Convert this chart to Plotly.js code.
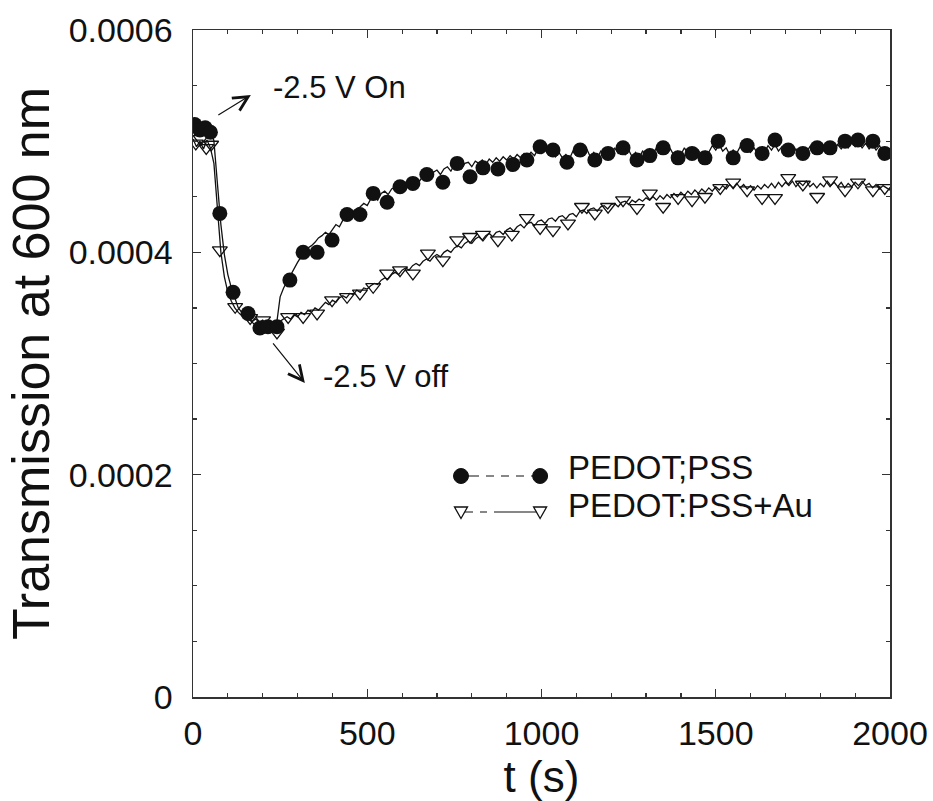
<!DOCTYPE html>
<html>
<head>
<meta charset="utf-8">
<script src="https://cdn.plot.ly/plotly-3.0.1.min.js"></script>
<style>
  html, body { margin: 0; padding: 0; background: #ffffff; }
  #chart { width: 933px; height: 801px; }
</style>
</head>
<body>
<div id="chart"></div>
<script>
// Time base of the recorded transmission traces (s)
const tLine = [
  0,10,20,30,40,50,60,70,80,90,100,110,120,130,140,150,160,170,180,190,
  200,210,220,230,240,250,260,270,280,290,300,310,320,330,340,350,360,370,380,390,
  400,410,420,430,440,450,460,470,480,490,500,510,520,530,540,550,560,570,580,590,
  600,610,620,630,640,650,660,670,680,690,700,710,720,730,740,750,760,770,780,790,
  800,810,820,830,840,850,860,870,880,890,900,910,920,930,940,950,960,970,980,990,
  1000,1010,1020,1030,1040,1050,1060,1070,1080,1090,1100,1110,1120,1130,1140,1150,1160,1170,1180,1190,
  1200,1210,1220,1230,1240,1250,1260,1270,1280,1290,1300,1310,1320,1330,1340,1350,1360,1370,1380,1390,
  1400,1410,1420,1430,1440,1450,1460,1470,1480,1490,1500,1510,1520,1530,1540,1550,1560,1570,1580,1590,
  1600,1610,1620,1630,1640,1650,1660,1670,1680,1690,1700,1710,1720,1730,1740,1750,1760,1770,1780,1790,
  1800,1810,1820,1830,1840,1850,1860,1870,1880,1890,1900,1910,1920,1930,1940,1950,1960,1970,1980,1990,
  2000
];

// PEDOT;PSS continuous trace
const pssLine = [
  0.000516,0.000509,0.000517,0.000512,0.000506,0.000514,0.000500,0.000462,0.000425,0.000398,
  0.000380,0.000368,0.000358,0.000350,0.000346,0.000342,0.000340,0.000337,0.000334,0.000331,
  0.000333,0.000330,0.000334,0.000331,0.000336,0.000360,0.000368,0.000374,0.000380,0.000386,
  0.000391,0.000396,0.000399,0.000404,0.000406,0.000409,0.000413,0.000415,0.000418,0.000416,
  0.000421,0.000425,0.000423,0.000429,0.000433,0.000431,0.000437,0.000439,0.000441,0.000444,
  0.000442,0.000448,0.000450,0.000447,0.000453,0.000455,0.000452,0.000457,0.000459,0.000456,
  0.000461,0.000463,0.000460,0.000465,0.000467,0.000464,0.000469,0.000471,0.000467,0.000472,
  0.000474,0.000470,0.000475,0.000477,0.000473,0.000479,0.000478,0.000475,0.000480,0.000481,
  0.000477,0.000482,0.000480,0.000483,0.000479,0.000484,0.000481,0.000485,0.000482,0.000486,
  0.000483,0.000487,0.000484,0.000488,0.000485,0.000489,0.000486,0.000490,0.000487,0.000493,
  0.000489,0.000493,0.000488,0.000492,0.000486,0.000490,0.000485,0.000488,0.000484,0.000491,
  0.000487,0.000492,0.000488,0.000493,0.000486,0.000490,0.000485,0.000491,0.000487,0.000492,
  0.000488,0.000494,0.000489,0.000493,0.000488,0.000492,0.000486,0.000490,0.000485,0.000491,
  0.000488,0.000493,0.000489,0.000494,0.000490,0.000495,0.000489,0.000493,0.000487,0.000491,
  0.000488,0.000494,0.000489,0.000493,0.000488,0.000492,0.000487,0.000491,0.000490,0.000496,
  0.000492,0.000497,0.000491,0.000494,0.000488,0.000492,0.000489,0.000495,0.000491,0.000496,
  0.000490,0.000494,0.000489,0.000493,0.000490,0.000496,0.000492,0.000497,0.000491,0.000495,
  0.000490,0.000494,0.000489,0.000493,0.000488,0.000492,0.000490,0.000495,0.000491,0.000496,
  0.000492,0.000495,0.000490,0.000496,0.000492,0.000497,0.000493,0.000498,0.000494,0.000499,
  0.000495,0.000499,0.000494,0.000498,0.000493,0.000497,0.000492,0.000496,0.000490,0.000493,
  0.000488
];

// PEDOT:PSS+Au continuous trace
const auLine = [
  0.000502,0.000495,0.000500,0.000493,0.000501,0.000494,0.000480,0.000440,0.000400,0.000378,
  0.000364,0.000356,0.000350,0.000346,0.000343,0.000341,0.000340,0.000338,0.000340,0.000337,
  0.000339,0.000336,0.000338,0.000335,0.000331,0.000338,0.000340,0.000342,0.000340,0.000344,
  0.000342,0.000346,0.000344,0.000348,0.000346,0.000350,0.000348,0.000352,0.000355,0.000353,
  0.000357,0.000355,0.000359,0.000361,0.000359,0.000363,0.000362,0.000366,0.000364,0.000368,
  0.000367,0.000370,0.000372,0.000371,0.000375,0.000377,0.000376,0.000380,0.000382,0.000380,
  0.000384,0.000386,0.000384,0.000388,0.000390,0.000388,0.000392,0.000394,0.000392,0.000396,
  0.000398,0.000396,0.000400,0.000402,0.000400,0.000404,0.000406,0.000404,0.000408,0.000410,
  0.000408,0.000412,0.000414,0.000411,0.000415,0.000417,0.000414,0.000418,0.000419,0.000416,
  0.000420,0.000422,0.000419,0.000423,0.000425,0.000422,0.000426,0.000427,0.000424,0.000428,
  0.000429,0.000426,0.000430,0.000431,0.000428,0.000432,0.000433,0.000430,0.000434,0.000435,
  0.000432,0.000437,0.000438,0.000435,0.000439,0.000440,0.000437,0.000441,0.000442,0.000439,
  0.000443,0.000444,0.000441,0.000445,0.000446,0.000443,0.000447,0.000445,0.000448,0.000446,
  0.000449,0.000447,0.000450,0.000447,0.000451,0.000448,0.000452,0.000449,0.000453,0.000450,
  0.000454,0.000451,0.000455,0.000452,0.000456,0.000453,0.000457,0.000454,0.000458,0.000455,
  0.000459,0.000456,0.000460,0.000457,0.000461,0.000458,0.000462,0.000458,0.000461,0.000457,
  0.000460,0.000456,0.000460,0.000457,0.000461,0.000458,0.000462,0.000458,0.000463,0.000459,
  0.000463,0.000460,0.000464,0.000459,0.000463,0.000460,0.000464,0.000459,0.000462,0.000458,
  0.000462,0.000459,0.000464,0.000460,0.000463,0.000459,0.000463,0.000458,0.000462,0.000459,
  0.000463,0.000460,0.000464,0.000460,0.000462,0.000458,0.000461,0.000457,0.000460,0.000458,
  0.000456
];

// Sampled marker points, PEDOT;PSS (filled circles)
const tDot = [5,20,35,50,77,115,158,192,215,241,278,316,356,399,442,479,517,557,594,631,
  671,717,758,795,832,875,918,958,996,1033,1073,1111,1153,1191,1234,1274,1311,1349,1392,1432,
  1469,1507,1550,1590,1633,1670,1708,1750,1791,1828,1871,1908,1951,1985];
const vDot = [0.000515,0.000510,0.000512,0.000508,0.000435,0.000364,0.000345,0.000332,0.000333,0.000333,
  0.000375,0.000400,0.000400,0.000411,0.000434,0.000434,0.000453,0.000445,0.000459,0.000462,
  0.000470,0.000463,0.000480,0.000468,0.000476,0.000475,0.000479,0.000483,0.000495,0.000492,
  0.000481,0.000492,0.000483,0.000489,0.000494,0.000483,0.000487,0.000494,0.000485,0.000489,
  0.000485,0.000500,0.000485,0.000496,0.000489,0.000501,0.000492,0.000489,0.000494,0.000494,
  0.000500,0.000501,0.000500,0.000489];

// Sampled marker points, PEDOT:PSS+Au (open down-triangles)
const tTri = [8,22,38,52,77,121,164,201,241,273,316,356,399,442,479,517,557,594,631,674,
  717,758,795,832,875,915,958,996,1033,1076,1116,1153,1191,1234,1274,1311,1349,1392,1432,1469,
  1513,1550,1590,1633,1670,1708,1750,1791,1828,1871,1908,1951,1985];
const vTri = [0.000498,0.000502,0.000494,0.000497,0.000402,0.000351,0.000341,0.000339,0.000328,0.000342,
  0.000342,0.000345,0.000357,0.000360,0.000363,0.000369,0.000381,0.000384,0.000381,0.000399,
  0.000393,0.000411,0.000414,0.000416,0.000411,0.000416,0.000431,0.000422,0.000420,0.000426,
  0.000441,0.000435,0.000441,0.000447,0.000440,0.000453,0.000441,0.000449,0.000447,0.000450,
  0.000458,0.000463,0.000456,0.000449,0.000449,0.000467,0.000461,0.000450,0.000465,0.000456,
  0.000463,0.000456,0.000458];

// Series names and axis tick labels
const seriesNames = ['PEDOT;PSS', 'PEDOT:PSS+Au'];
const yTickVals = [0, 0.0002, 0.0004, 0.0006];
const yTickText = ['0', '0.0002', '0.0004', '0.0006'];
const xTickVals = [0, 500, 1000, 1500, 2000];

const INK = '#111111';
const FONT = 'Liberation Sans, Arial, Helvetica, sans-serif';

const traces = [
  { x: tLine, y: auLine, mode: 'lines', name: seriesNames[1],
    line: { color: INK, width: 1.3 }, hoverinfo: 'skip' },
  { x: tLine, y: pssLine, mode: 'lines', name: seriesNames[0],
    line: { color: INK, width: 1.3 }, hoverinfo: 'skip' },
  { x: tTri, y: vTri, mode: 'markers', name: seriesNames[1],
    marker: { symbol: 'triangle-down-open', size: 13, color: INK, line: { width: 1.3, color: INK } } },
  { x: tDot, y: vDot, mode: 'markers', name: seriesNames[0],
    marker: { symbol: 'circle', size: 15, color: INK } }
];

// Key drawn inside the plot area (data coordinates)
const keyX0 = 769, keyX1 = 996, keyTextX = 1072;
const keyRow1 = 0.0001988, keyRow2 = 0.0001664;
const keyText1 = 0.0002069, keyText2 = 0.0001727;

function dotShape(x, y) {
  return { type: 'circle', xref: 'x', yref: 'y', xsizemode: 'pixel', ysizemode: 'pixel',
    xanchor: x, yanchor: y, x0: -7.5, x1: 7.5, y0: -7.5, y1: 7.5,
    fillcolor: INK, line: { color: INK, width: 1 } };
}
function triShape(x, y) {
  return { type: 'path', xref: 'x', yref: 'y', xsizemode: 'pixel', ysizemode: 'pixel',
    xanchor: x, yanchor: y, path: 'M-6.5,5 L6.5,5 L0,-6.5 Z',
    fillcolor: '#ffffff', line: { color: INK, width: 1.3 } };
}

const shapes = [
  { type: 'line', xref: 'x', yref: 'y', x0: keyX0, x1: keyX1, y0: keyRow1, y1: keyRow1,
    line: { color: INK, width: 1.2, dash: '18px,7px,8px,7px,8px,7px,8px,7px,40px' } },
  { type: 'line', xref: 'x', yref: 'y', x0: keyX0, x1: keyX1, y0: keyRow2, y1: keyRow2,
    line: { color: INK, width: 1.2, dash: '12px,7px,7px,7px,60px' } },
  dotShape(keyX0, keyRow1), dotShape(keyX1, keyRow1),
  triShape(keyX0, keyRow2), triShape(keyX1, keyRow2)
];

const annotations = [
  { x: keyTextX, y: keyText1, xref: 'x', yref: 'y', text: seriesNames[0], showarrow: false,
    xanchor: 'left', yanchor: 'middle', borderpad: 0, font: { family: FONT, size: 33, color: INK } },
  { x: keyTextX, y: keyText2, xref: 'x', yref: 'y', text: seriesNames[1], showarrow: false,
    xanchor: 'left', yanchor: 'middle', borderpad: 0, font: { family: FONT, size: 33, color: INK } },
  // switching events
  { x: 224, y: 0.0005487, xref: 'x', yref: 'y', text: '-2.5 V On', showarrow: false,
    xanchor: 'left', yanchor: 'middle', font: { family: FONT, size: 31, color: INK } },
  { x: 166, y: 0.0005415, xref: 'x', yref: 'y', text: '', showarrow: true,
    ax: -34, ay: 21, arrowhead: 5, arrowsize: 2.4, arrowwidth: 1.2, arrowcolor: INK },
  { x: 366, y: 0.0002879, xref: 'x', yref: 'y', text: '-2.5 V off', showarrow: false,
    xanchor: 'left', yanchor: 'middle', font: { family: FONT, size: 31, color: INK } },
  { x: 321, y: 0.0002825, xref: 'x', yref: 'y', text: '', showarrow: true,
    ax: -33, ay: -41, arrowhead: 5, arrowsize: 2.4, arrowwidth: 1.2, arrowcolor: INK }
];

const axisCommon = {
  ticks: 'inside', ticklen: 8, tickwidth: 1.2, tickcolor: '#333333',
  showline: true, linecolor: '#333333', linewidth: 1.5, mirror: 'ticks',
  showgrid: false, zeroline: false, automargin: false,
  tickfont: { family: FONT, size: 34, color: INK }
};

const layout = {
  width: 933, height: 801,
  margin: { l: 193, r: 43, t: 30, b: 104 },
  paper_bgcolor: '#ffffff', plot_bgcolor: '#ffffff',
  showlegend: false,
  font: { family: FONT, color: INK },
  xaxis: Object.assign({}, axisCommon, {
    range: [0, 2000], tickmode: 'array', tickvals: xTickVals,
    minor: { dtick: 100, tick0: 0, ticks: 'inside', ticklen: 4, tickcolor: '#333333', showgrid: false },
    ticklabelstandoff: 6,
    title: { text: 't (s)', font: { family: FONT, size: 44, color: INK }, standoff: 6 }
  }),
  yaxis: Object.assign({}, axisCommon, {
    range: [0, 0.0006], tickmode: 'array', tickvals: yTickVals, ticktext: yTickText,
    minor: { dtick: 0.00005, tick0: 0, ticks: 'inside', ticklen: 4, tickcolor: '#333333', showgrid: false },
    ticklabelstandoff: 12,
    title: { text: 'Transmission at 600 nm', font: { family: FONT, size: 52, color: INK }, standoff: 2 }
  }),
  shapes: shapes,
  annotations: annotations
};

Plotly.newPlot('chart', traces, layout, { displayModeBar: false, staticPlot: true });
</script>
</body>
</html>
